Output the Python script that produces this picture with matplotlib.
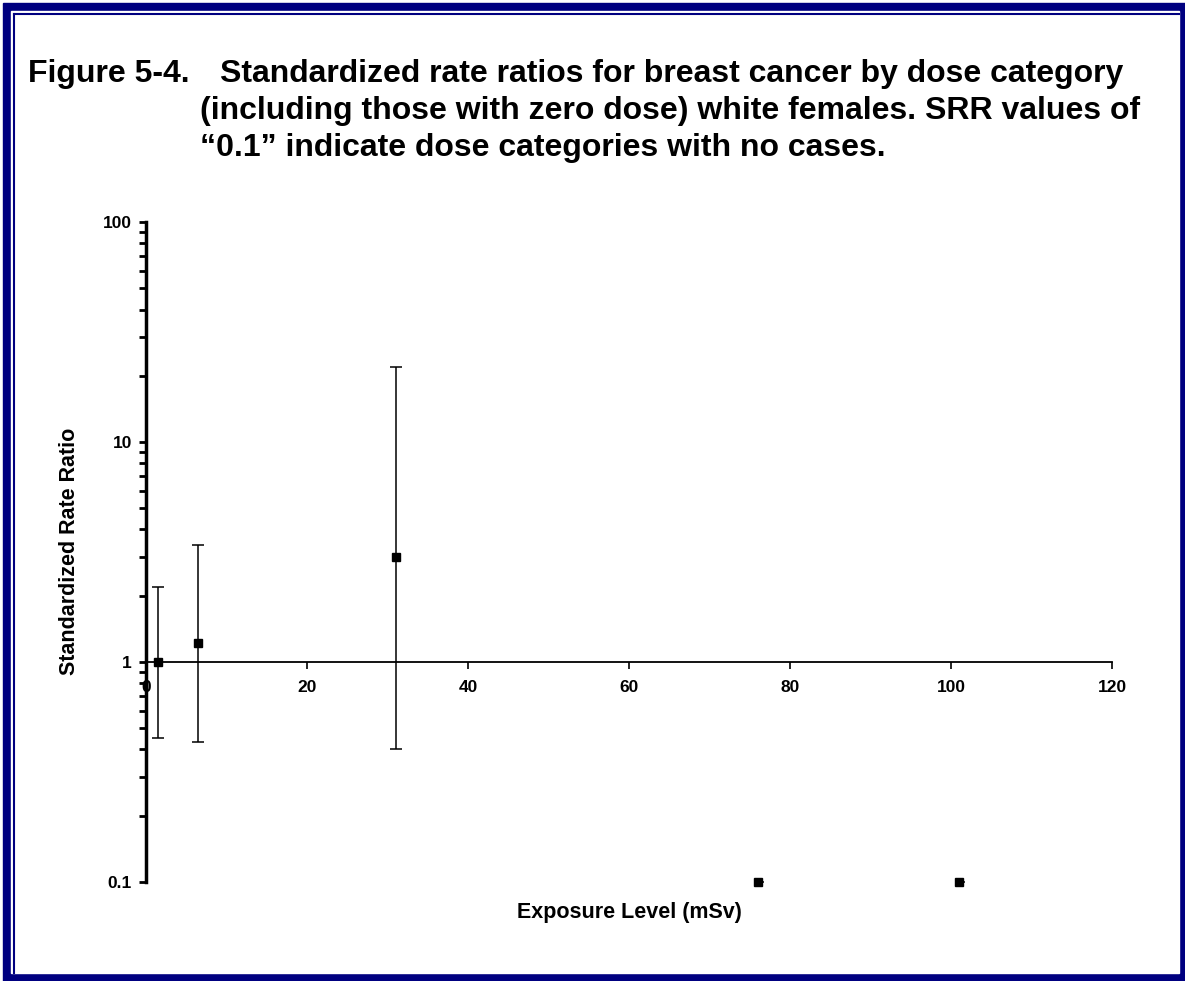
import numpy as np
import matplotlib.pyplot as plt
from matplotlib.patches import Rectangle
from matplotlib.lines import Line2D
from matplotlib.ticker import LogLocator, FixedLocator, FixedFormatter

plt.rcParams['font.family'] = ['Liberation Sans', 'DejaVu Sans']

# dose category midpoints (mSv) and standardized rate ratios
dose = [1.5, 6.5, 31, 76, 101]
srr = [1.0, 1.22, 3.0, 0.1, 0.1]
ci_low = [0.45, 0.43, 0.40, np.nan, np.nan]
ci_high = [2.2, 3.4, 22.0, np.nan, np.nan]

y_ticks = [0.1, 1, 10, 100]
y_tick_labels = ['0.1', '1', '10', '100']
x_ticks = [0, 20, 40, 60, 80, 100, 120]

W, H = 1185, 981
fig = plt.figure(figsize=(W / 100, H / 100), dpi=100)
fig.patch.set_facecolor('white')


def px(x0, y0, x1, y1):
    # pixel box (top-left origin) -> figure fraction rectangle args
    return (x0 / W, 1 - y1 / H), (x1 - x0) / W, (y1 - y0) / H


navy = '#000080'
xy, w, h = px(3, 3, 1185, 981)
fig.add_artist(Rectangle(xy, w, h, transform=fig.transFigure, color=navy, zorder=-5))
xy, w, h = px(11, 11, 1179, 973)
fig.add_artist(Rectangle(xy, w, h, transform=fig.transFigure, color='white', zorder=-4))
fig.add_artist(Line2D([13.5 / W, 13.5 / W], [1 - 13.5 / H, 1 - 973 / H],
                      transform=fig.transFigure, color=navy, lw=1.5, zorder=-3))
fig.add_artist(Line2D([13.5 / W, 1179 / W], [1 - 13.5 / H, 1 - 13.5 / H],
                      transform=fig.transFigure, color=navy, lw=1.5, zorder=-3))

# title
tfont = dict(fontsize=23, fontweight='bold', va='center', ha='left')
fig.text(28 / W, 1 - 74 / H, 'Figure 5-4.', **tfont)
fig.text(220 / W, 1 - 74 / H, 'Standardized rate ratios for breast cancer by dose category', **tfont)
fig.text(200 / W, 1 - 111 / H, '(including those with zero dose) white females. SRR values of', **tfont)
fig.text(200 / W, 1 - 148 / H, '\u201c0.1\u201d indicate dose categories with no cases.', **tfont)

left, right, top, bottom = 146, 1112, 222, 881.7
ax = fig.add_axes([left / W, 1 - bottom / H, (right - left) / W, (bottom - top) / H])
ax.set_facecolor('none')
ax.set_yscale('log')
ax.set_ylim(0.1, 100)
ax.set_xlim(0, 120)

ax.spines['top'].set_visible(False)
ax.spines['right'].set_visible(False)
ax.spines['bottom'].set_position(('data', 1))
ax.spines['bottom'].set_linewidth(1.3)
ax.spines['left'].set_linewidth(2.5)

ax.yaxis.set_major_locator(FixedLocator(y_ticks))
ax.yaxis.set_major_formatter(FixedFormatter(y_tick_labels))
ax.yaxis.set_minor_locator(LogLocator(base=10, subs=np.arange(2, 10)))
ax.set_xticks(x_ticks)
ax.set_xticklabels([str(v) for v in x_ticks])

ax.tick_params(axis='y', which='both', direction='out', length=5, width=2, pad=5,
               labelsize=12.5)
ax.tick_params(axis='y', which='minor', labelleft=False)
ax.tick_params(axis='x', direction='out', length=5, width=1.2, pad=8, labelsize=12.5)
for lab in ax.get_xticklabels() + ax.get_yticklabels():
    lab.set_fontweight('bold')

srr_a = np.array(srr)
yerr = [srr_a - np.array(ci_low), np.array(ci_high) - srr_a]
ax.errorbar(dose, srr, yerr=yerr, fmt='s', color='black', ms=6, elinewidth=1.1,
            capsize=4, capthick=1.1, clip_on=False, zorder=3)
# categories with no cases carry a short stub to the right of the marker
no_case = srr_a == 0.1
for d in np.array(dose)[no_case]:
    ax.errorbar([d], [0.1], xerr=[[0], [0.8]], fmt='none', ecolor='black',
                elinewidth=1.1, capsize=0, clip_on=False, zorder=3)

ax.set_ylabel('Standardized Rate Ratio', fontsize=15.5, fontweight='bold')
ax.yaxis.set_label_coords(-0.068, 0.5)
ax.set_xlabel('Exposure Level (mSv)', fontsize=15.5, fontweight='bold')
ax.xaxis.set_label_coords(0.5, -0.047)
ax.xaxis.label.set_va('center')

fig.savefig('out.png', dpi=100, facecolor='white')
